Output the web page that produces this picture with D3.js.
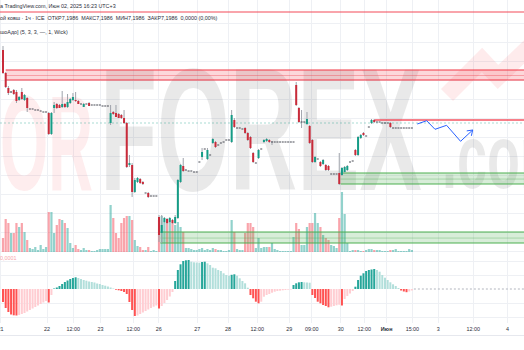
<!DOCTYPE html>
<html><head><meta charset="utf-8">
<script src="https://cdn.jsdelivr.net/npm/d3@7"></script>
<style>html,body{margin:0;padding:0;background:#fff;overflow:hidden}</style>
</head><body>
<svg id="c" width="524" height="350" xmlns="http://www.w3.org/2000/svg"></svg>
<script>
// ---------- DATA (price points, hourly bars) ----------
const open  = [250,227,212,208,210,208,200,208,200,202, 191,191,190,190,189,188,188,187,166,192, 196,195,193,196,193,197,200,200,199,196, 193,196,197,195,195,195,195,194,194,194, 177,188,187,186,185,182,177,135,135,108, 118,121,118,107,107,104,104,104,83,67, 78,81,78,80,77,82,118,134,130,129, 129,128,128,138,143,151,141,145,157,158, 155,157,158,160,160,158,180,172,172,171, 172,167,163,147,137,142,151,158,159,160, 158,158,158,158,158,158,158,158,158,215, 192,178,178,176,174,160,138,141,138,136, 135,134,126,126,126,127,125,128,130,138, 139,150,145,162,167,164,173,177,180,178, 178,177,177,177,177,172,172,172,172,172, 172,172,172];
const high  = [254,228,214,209,211,210,204,212,206,203, 191,191,190,190,189,188,188,188,188,198, 197,196,209,197,206,202,207,208,200,196, 197,196,198,195,195,195,195,194,194,194, 195,189,195,187,186,190,178,145,137,122, 123,122,119,107,108,104,104,104,85,85, 83,82,83,81,85,121,136,142,130,129, 129,128,128,138,152,151,152,145,162,159, 155,157,158,160,160,190,182,172,172,171, 173,168,164,148,137,151,151,161,162,161, 159,158,158,158,158,158,158,158,158,218, 193,190,178,188,175,161,144,141,139,141, 136,135,126,126,126,147,133,134,135,138, 139,151,164,166,168,164,173,181,181,178, 178,177,177,177,178,172,172,172,172,172, 172,172,172];
const low   = [226,212,205,207,205,197,199,200,199,188, 191,191,190,190,189,188,188,165,165,187, 191,192,192,192,192,196,199,198,196,196, 193,196,194,195,195,195,195,194,194,194, 175,185,183,182,181,176,132,133,103,107, 117,116,115,107,102,104,104,104,58,57, 77,76,77,76,76,81,117,128,130,129, 129,128,128,138,140,151,140,145,156,152, 155,157,158,160,160,157,172,172,172,171, 166,159,151,137,137,141,151,157,158,157, 155,158,158,158,158,158,158,158,158,194, 177,172,178,175,156,137,137,141,133,135, 129,129,126,126,126,115,124,127,129,138, 139,144,144,161,164,164,173,176,177,178, 178,177,177,177,172,172,172,172,172,172, 172,172,172];
const close = [227,213,207,208,206,199,203,201,205,192, 191,191,190,190,189,188,188,166,187,195, 192,192,196,193,198,201,203,199,196,196, 196,196,194,195,195,195,195,194,194,194, 187,186,183,182,182,177,133,137,108,120, 122,117,116,107,103,104,104,104,65,75, 82,77,82,77,83,120,135,129,130,129, 129,128,128,138,148,151,150,145,161,153, 155,157,158,160,160,185,173,172,172,171, 167,160,152,138,137,150,151,160,161,158, 158,158,158,158,158,158,158,158,158,195, 178,178,178,181,157,138,143,141,134,140, 130,130,126,126,126,116,132,133,134,138, 139,145,163,165,165,164,173,180,178,178, 178,177,177,177,173,172,172,172,172,172, 172,172,172];
const volume = [14,33,29,19,19,29,25,29,20,12, 4,3,5,2,7,3,5,40,40,19, 27,33,32,29,24,9,4,7,3,2, 4,2,2,1,1,2,3,3,3,3, 47,34,19,14,29,34,36,36,32,12, 6,5,2,2,5,1,2,1,32,36, 30,33,30,29,27,30,25,20,4,4, 3,2,2,3,4,2,3,2,4,3, 2,2,1,1,2,32,20,3,2,2, 19,29,29,25,4,14,4,5,5,5, 9,3,2,1,1,1,1,1,15,29, 23,7,7,25,29,29,39,29,25,17, 14,12,7,6,4,34,60,38,9,1, 2,2,2,1,1,2,3,3,2,2, 2,1,1,1,2,2,3,1,1,1, 1,3,2];
const hist = [-13,-19,-23,-25.5,-26.3,-26.5,-26,-25,-24,-22.5,-21,-19.5,-18,-16.5,-15,-13.5,-12,-13.5,-6,
  0.5,1.5,3,5,7,8.5,10,11,11.7,11,10,9,8.3,7.5,7,6.5,5.5,5,4,3.3,2.5,1.5,0.5,
  -0.7,-1.3,-2,-3,-5,-13,-21,-27,-26.5,-25,-23.5,-22,-20.5,-19,-17.7,-16.5,-19.5,-17,-14,-11,-7.5,-3,
  8,19,24.7,28,28.7,29,27.3,26.7,26.5,26.3,27,27.3,25.7,24,21.3,20.7,19,18,15.7,14,13.3,14.2,14.7,13.3,10.7,8,5.7,1.3,
  -6,-9.3,-12.7,-14.3,-12.7,-7.7,-6,-5,-3.7,-2.7,-2,-1.7,-1.3,-1,-0.7,-0.5,
  4,5.7,6.7,7,6.7,6.5,6.3,
  -6,-9,-12.7,-14.3,-16,-17,-18.3,-17.7,-17,-16.3,-15.7,-16.5,-10,-7,-4.5,-2,
  2.3,9,13.3,15.7,18,19,19.5,20,19,17.3,14,11.3,9,6.7,4.7,3,1,
  -1.5,-2.5,-3.2,-2.5,-1.5];
const tickPos    = [-1.1,16.2,25.9,36.1,48.2,57.7,72,83.5,94.3,106.2,114.6,125.4,134.1,142.4,152,161.6,174.6,187.4];
const tickLabels = ["21","22","12:00","23","12:00","26","27","28","12:00","29","09:00","30","12:00","Июн","15:00","3","12:00","4"];
const forecastIdx = [154,157.5,160.6,164.9,170.1,174.6];
const forecastVal = [176,179.3,170.7,174.7,158.7,170];
const topLevel = 288, lastPrice = 177;
const redZone = [230,220], redZoneFrom = 1;
const resistance = 180, resistanceFrom = 138;
const greenZone1 = [127,116], greenZone1From = 125.5;
const greenZone2 = [68,57], greenZone2From = 58.5;
const headerLines = ["а TradingView.com, Июн 02, 2025 16:23 UTC+3",
  "ой ковш · 1ч · ICE  ОТКР7,1986  МАКС7,1986  МИН7,1986  ЗАКР7,1986  0,0000 (0,00%)",
  "шоАдо] (5, 3, 3, —, 1, Wick)"];
const histLabel = "0,0001";
const watermark = ["OR","FOREX",".com"];

// ---------- SCALES ----------
const W = 524, Hh = 350;
const x  = d3.scaleLinear().domain([0,152]).range([3,411.88]);
const y  = d3.scaleLinear().domain([0,300]).range([300,0]);
const yv = d3.scaleLinear().domain([0,100]).range([252,152]);
const yh = d3.scaleLinear().domain([-40,40]).range([329,249]);
const svg = d3.select("#c");
const font = "'Liberation Sans', Arial, sans-serif";

svg.append("rect").attr("width",W).attr("height",Hh).attr("fill","#ffffff");

// ---------- GRID ----------
const grid = svg.append("g").attr("stroke","#eef0f4").attr("stroke-width",1);
tickPos.forEach(t => grid.append("line").attr("x1",Math.round(x(t))+0.5).attr("x2",Math.round(x(t))+0.5).attr("y1",0).attr("y2",323));
d3.range(49,278,19).forEach(v => grid.append("line").attr("x1",0).attr("x2",W).attr("y1",Math.round(y(v))+0.5).attr("y2",Math.round(y(v))+0.5));
[-28,-14,14,28].forEach(v => grid.append("line").attr("x1",0).attr("x2",W).attr("y1",Math.round(yh(v))+0.5).attr("y2",Math.round(yh(v))+0.5));
svg.append("line").attr("x1",0).attr("x2",W).attr("y1",335.5).attr("y2",335.5).attr("stroke","#e6e8ee");

// ---------- WATERMARK (condensed via horizontal scale) ----------
const wm = svg.append("g").attr("font-family",font).attr("font-weight","bold");
function wmText(str, x0, base, size, targetW, fill){
  const t = wm.append("text").attr("x",0).attr("y",0).attr("font-size",size).attr("fill",fill).text(str);
  const w = t.node().getComputedTextLength();
  t.attr("transform",`translate(${x0},${base}) scale(${targetW/w},1)`);
}
wmText(watermark[0], 0, 190, 135, 93, "rgba(242,54,69,0.09)");
wmText(watermark[1], 100, 190, 175, 322, "rgba(0,0,0,0.085)");
wmText(watermark[2], 442, 188, 90, 126, "rgba(0,0,0,0.085)");
svg.append("polyline").attr("points","447,95 482,60 498,77 545,32").attr("fill","none")
  .attr("stroke","rgba(242,54,69,0.1)").attr("stroke-width",17).attr("stroke-linejoin","miter");

// ---------- LEVELS & ZONES ----------
svg.append("line").attr("x1",0).attr("x2",W).attr("y1",y(topLevel)).attr("y2",y(topLevel))
  .attr("stroke","rgba(242,54,69,0.45)").attr("stroke-width",2);
svg.append("line").attr("x1",0).attr("x2",W).attr("y1",y(lastPrice)).attr("y2",y(lastPrice))
  .attr("stroke","rgba(8,153,129,0.35)").attr("stroke-width",1).attr("stroke-dasharray","2,2");

function zone(vals, from, col, fill){
  const g = svg.append("g");
  const x0 = x(from), y0 = y(vals[0]), y1 = y(vals[1]);
  g.append("rect").attr("x",x0).attr("y",y0).attr("width",W-x0).attr("height",y1-y0).attr("fill",fill);
  g.append("line").attr("x1",x0).attr("x2",W).attr("y1",y0).attr("y2",y0).attr("stroke",col).attr("stroke-width",1.2);
  g.append("line").attr("x1",x0).attr("x2",W).attr("y1",y1).attr("y2",y1).attr("stroke",col).attr("stroke-width",1.2);
  const ym = y0 + (y1-y0)*0.55;
  g.append("line").attr("x1",x0).attr("x2",W).attr("y1",ym).attr("y2",ym).attr("stroke",col).attr("stroke-opacity",0.35);
}
zone(redZone, redZoneFrom, "#f23645", "rgba(242,54,69,0.2)");
svg.append("line").attr("x1",x(resistanceFrom)).attr("x2",W).attr("y1",y(resistance)).attr("y2",y(resistance))
  .attr("stroke","#f23645").attr("stroke-width",1.6).attr("stroke-opacity",0.85);

// ---------- VOLUME ----------
svg.append("g").selectAll("rect").data(volume).join("rect")
  .attr("x",(d,i)=>x(i)-1.1).attr("width",2.2)
  .attr("y",d=>yv(d)).attr("height",d=>yv(0)-yv(d))
  .attr("fill",(d,i)=> close[i]>=open[i] ? "rgba(38,166,154,0.5)" : "rgba(242,54,69,0.45)");

zone(greenZone1, greenZone1From, "#4caf50", "rgba(76,175,80,0.22)");
zone(greenZone2, greenZone2From, "#4caf50", "rgba(76,175,80,0.22)");

// ---------- CANDLES ----------
const cg = svg.append("g");
open.forEach((o,i)=>{
  const c = close[i], h = high[i], l = low[i];
  if (h!==l) cg.append("line").attr("x1",x(i)).attr("x2",x(i)).attr("y1",y(h)).attr("y2",y(l))
      .attr("stroke","#9ea2ab").attr("stroke-width",1);
  if (o===c) {
    cg.append("rect").attr("x",x(i)-1).attr("width",2).attr("y",y(o)-0.5).attr("height",1).attr("fill","#4a4d57");
  } else {
    const top = y(Math.max(o,c)), bot = y(Math.min(o,c));
    cg.append("rect").attr("x",x(i)-1).attr("width",2).attr("y",top).attr("height",Math.max(1,bot-top))
      .attr("fill", c>o ? "#159c86" : "#c92b3a");
  }
});

// ---------- HISTOGRAM ----------
svg.append("line").attr("x1",x(152)+2).attr("x2",W).attr("y1",yh(0)).attr("y2",yh(0))
  .attr("stroke","#b2b5be").attr("stroke-dasharray","2,2");
svg.append("g").selectAll("rect").data(hist).join("rect")
  .attr("x",(d,i)=>x(i)-1).attr("width",2)
  .attr("y",d=>yh(Math.max(0,d))).attr("height",d=>Math.abs(yh(d)-yh(0)))
  .attr("fill",(d,i)=>{
    const p = i>0 ? hist[i-1] : d;
    if (d>=0) return d>=p ? "#26a69a" : "#b2dfdb";
    return d<=p ? "#ff5252" : "#ffcdd2";
  });
svg.append("text").attr("x",0).attr("y",260).attr("font-family",font).attr("font-size",5.4)
  .attr("fill","#f7a4aa").text(histLabel);

// ---------- FORECAST ARROW ----------
const pts = forecastIdx.map((t,k)=>[x(t), y(forecastVal[k])]);
svg.append("path").attr("d", d3.line()(pts)).attr("fill","none").attr("stroke","#2962ff").attr("stroke-width",1);
const n = pts.length, tip = pts[n-1], prev = pts[n-2];
const ang = Math.atan2(tip[1]-prev[1], tip[0]-prev[0]);
[0.6,-0.6].forEach(a=>{
  svg.append("line").attr("x1",tip[0]).attr("y1",tip[1])
    .attr("x2",tip[0]-6*Math.cos(ang+a)).attr("y2",tip[1]-6*Math.sin(ang+a))
    .attr("stroke","#2962ff").attr("stroke-width",1);
});

// ---------- HEADER ----------
[8,19.5,34].forEach((yy,k)=> svg.append("text").attr("x",0).attr("y",yy).attr("font-family",font)
  .attr("font-size",5.4).attr("fill","#2a2e39").attr("xml:space","preserve").text(headerLines[k]));

// ---------- X AXIS ----------
const ax = svg.append("g").attr("transform","translate(0,327)")
  .call(d3.axisBottom(x).tickValues(tickPos).tickFormat((d,i)=>tickLabels[i]).tickSize(0).tickPadding(0));
ax.select(".domain").remove();
ax.selectAll("text").attr("font-family",font).attr("font-size",5.4).attr("fill","#2a2e39")
  .attr("dy","0.35em").attr("y",2)
  .attr("font-weight",(d,i)=> tickLabels[i]==="Июн" ? "bold" : "normal");
</script>
</body></html>
